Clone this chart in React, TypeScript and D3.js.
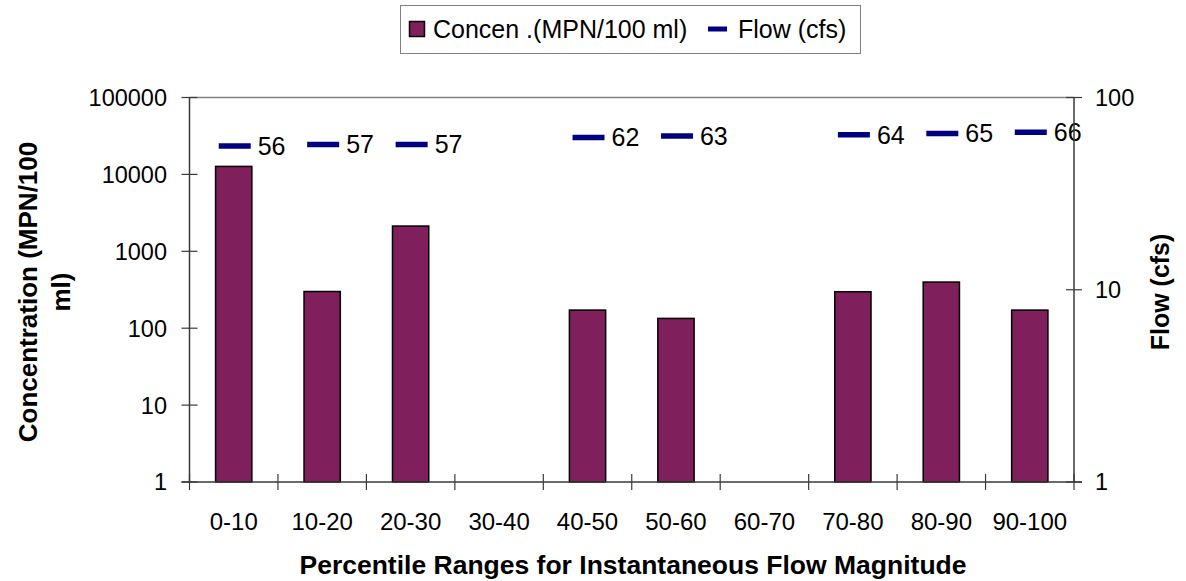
import React from "react";
import * as d3 from "d3";

const categories = ["0-10", "10-20", "20-30", "30-40", "40-50", "50-60", "60-70", "70-80", "80-90", "90-100"];
const concentration: (number | null)[] = [12700, 300, 2130, null, 172, 134, null, 298, 398, 172];
const flow: (number | null)[] = [56, 57, 57, null, 62, 63, null, 64, 65, 66];
const leftTicks = [1, 10, 100, 1000, 10000, 100000];
const rightTicks = [1, 10, 100];

const W = 1186, H = 581;
const L = 189.5, R = 1074, T = 97.5, B = 482;
const FONT = "'Liberation Sans', Arial, sans-serif";
const BAR = "#7f1f5b";
const NAVY = "#000080";
const AX = "#3a3a3a";

export default function App() {
  const x = d3.scaleBand<string>().domain(categories).range([L, R]).paddingInner(0).paddingOuter(0);
  const yL = d3.scaleLog().domain([1, 100000]).range([B, T]);
  const yR = d3.scaleLog().domain([1, 100]).range([B, T]);
  const bw = x.bandwidth() * 0.41;
  const fmt = d3.format("d");

  return (
    <svg width={W} height={H} style={{ position: "absolute", left: 0, top: 0, background: "#fff" }} fontFamily={FONT}>
      {/* legend */}
      <rect x={400.5} y={5.5} width={460} height={48} fill="#fff" stroke="#808080" strokeWidth={1} />
      <rect x={409.5} y={21.5} width={15} height={15} fill={BAR} stroke="#000" strokeWidth={1.5} />
      <text x={433} y={38} fontSize={25} fill="#000">Concen .(MPN/100 ml)</text>
      <line x1={708} x2={727} y1={29} y2={29} stroke={NAVY} strokeWidth={5} />
      <text x={738} y={38} fontSize={25} fill="#000">Flow (cfs)</text>

      {/* plot border top */}
      <line x1={L} x2={R} y1={T} y2={T} stroke="#808080" strokeWidth={1.5} />

      {/* bars */}
      {categories.map((c, i) => {
        const v = concentration[i];
        if (v == null) return null;
        const cx = (x(c) as number) + x.bandwidth() / 2;
        return (
          <rect key={c} x={cx - bw / 2} y={yL(v)} width={bw} height={B - yL(v)} fill={BAR} stroke="#000" strokeWidth={1.5} />
        );
      })}

      {/* flow markers */}
      {categories.map((c, i) => {
        const v = flow[i];
        if (v == null) return null;
        const cx = (x(c) as number) + x.bandwidth() / 2 + 1;
        const y = yR(v);
        return (
          <g key={c}>
            <line x1={cx - 16} x2={cx + 16} y1={y} y2={y} stroke={NAVY} strokeWidth={5.5} />
            <text x={cx + 23} y={y} dy="0.36em" fontSize={25} fill="#000">{v}</text>
          </g>
        );
      })}

      {/* left axis */}
      <line x1={L} x2={L} y1={T} y2={B} stroke={AX} strokeWidth={1.5} />
      {leftTicks.map((t) => (
        <g key={t}>
          <line x1={L - 8} x2={L + 8} y1={yL(t)} y2={yL(t)} stroke={AX} strokeWidth={1.2} />
          <text x={167} y={yL(t)} dy="0.36em" textAnchor="end" fontSize={23.5} fill="#000">{fmt(t)}</text>
        </g>
      ))}

      {/* right axis */}
      <line x1={R} x2={R} y1={T} y2={B} stroke={AX} strokeWidth={1.5} />
      {rightTicks.map((t) => (
        <g key={t}>
          <line x1={R - 8} x2={R + 8} y1={yR(t)} y2={yR(t)} stroke={AX} strokeWidth={1.2} />
          <text x={1095} y={yR(t)} dy="0.36em" textAnchor="start" fontSize={23.5} fill="#000">{fmt(t)}</text>
        </g>
      ))}

      {/* bottom axis */}
      <line x1={L - 8} x2={R + 8} y1={B} y2={B} stroke={AX} strokeWidth={1.5} />
      {[...categories.map((c) => x(c) as number), R].map((px, i) => (
        <line key={i} x1={px} x2={px} y1={B - 8} y2={B + 8} stroke={AX} strokeWidth={1.2} />
      ))}
      {categories.map((c) => (
        <text key={c} x={(x(c) as number) + x.bandwidth() / 2} y={530} textAnchor="middle" fontSize={24} fill="#000">{c}</text>
      ))}

      {/* axis titles */}
      <text x={633} y={574} textAnchor="middle" fontSize={26.5} fontWeight="bold" fill="#000">Percentile Ranges for Instantaneous Flow Magnitude</text>
      <text transform={`translate(37,292) rotate(-90)`} textAnchor="middle" fontSize={26} fontWeight="bold" fill="#000">Concentration (MPN/100</text>
      <text transform={`translate(70,292) rotate(-90)`} textAnchor="middle" fontSize={26} fontWeight="bold" fill="#000">ml)</text>
      <text transform={`translate(1169,292) rotate(-90)`} textAnchor="middle" fontSize={25} fontWeight="bold" fill="#000">Flow (cfs)</text>
    </svg>
  );
}
